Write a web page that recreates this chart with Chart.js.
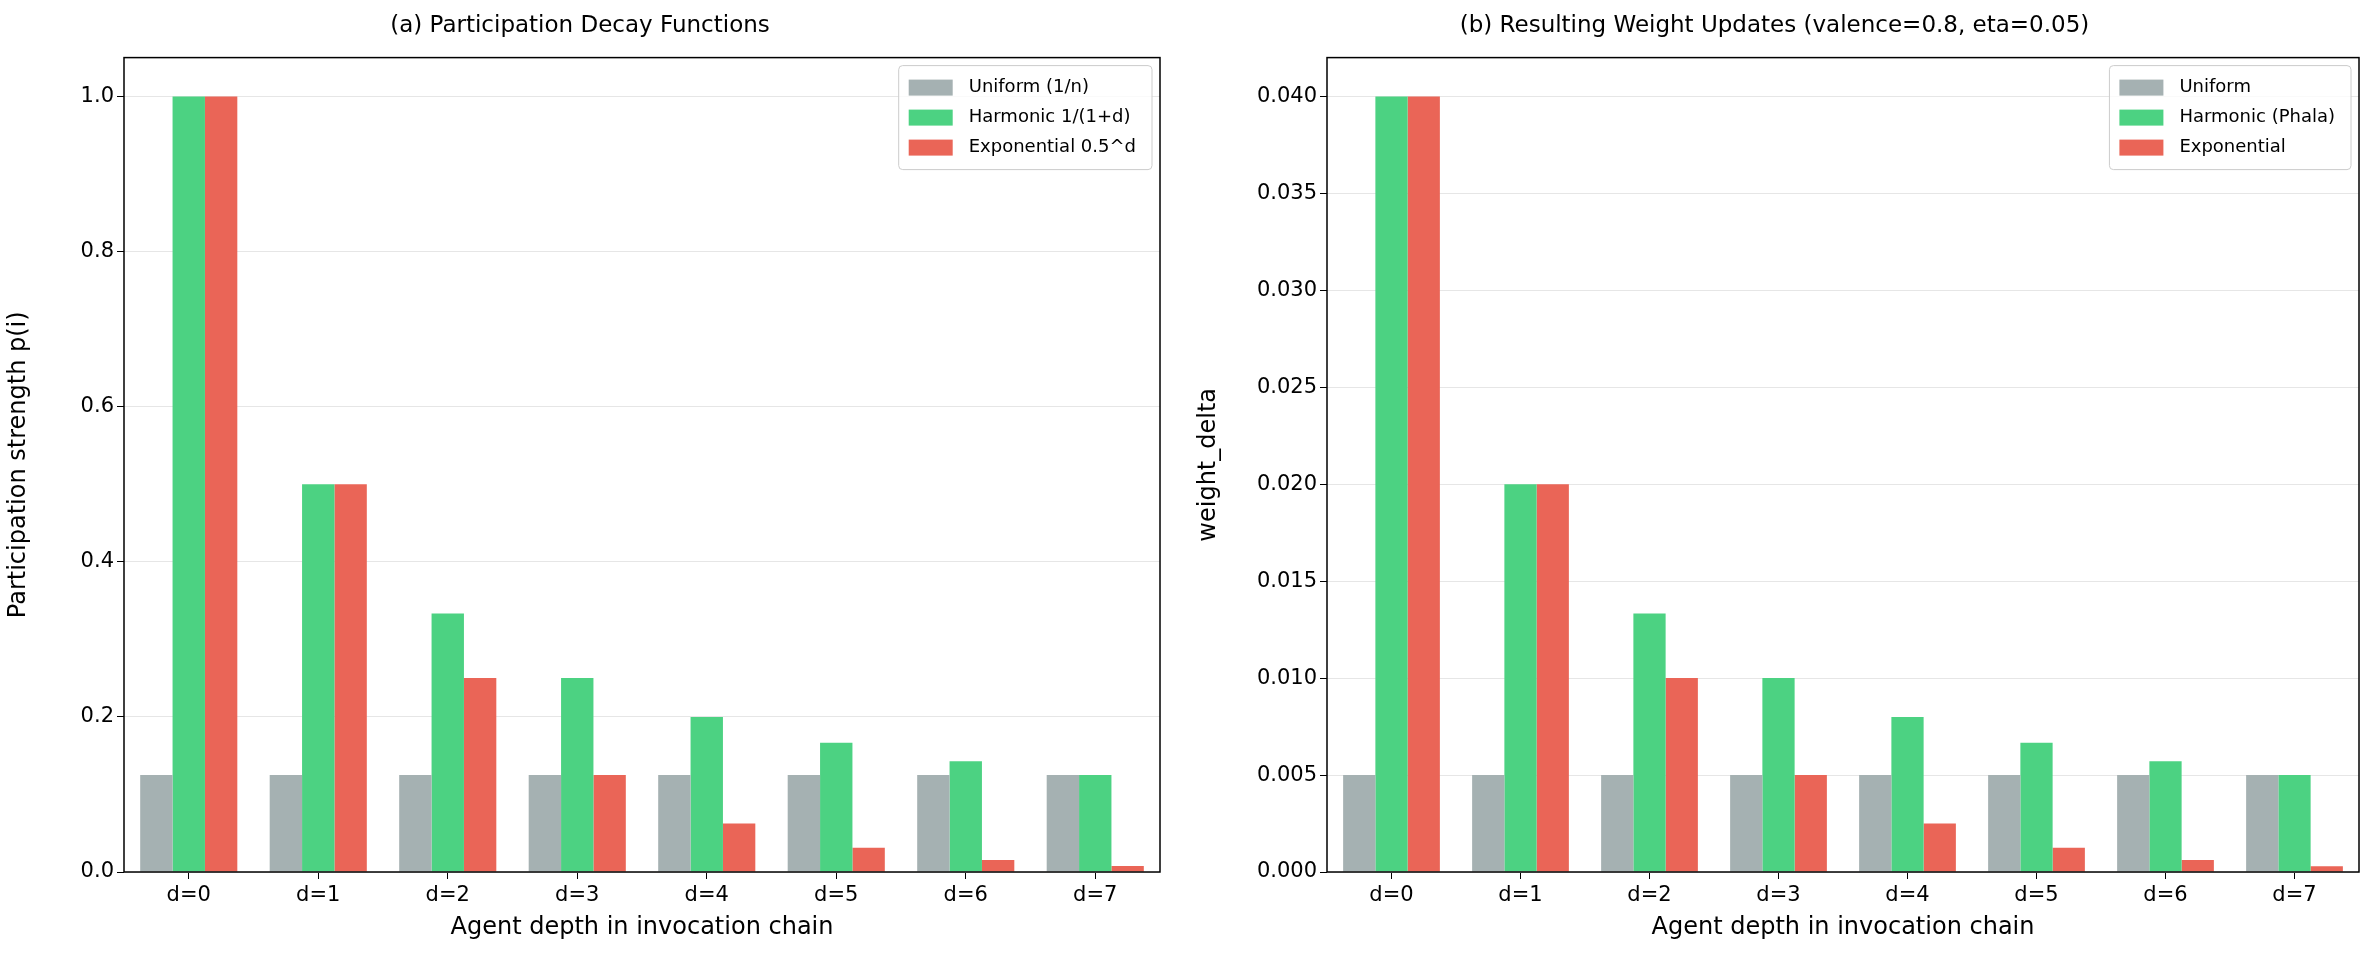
<!DOCTYPE html>
<html><head><meta charset="utf-8">
<script src="https://cdn.jsdelivr.net/npm/chart.js@4"></script>
<style>body{margin:0;background:#fff;width:2379px;height:980px;overflow:hidden;font-family:"DejaVu Sans"}
.c{position:absolute;top:0;height:980px}</style></head><body>
<div class="c" style="left:0;width:1180px"><canvas id="a"></canvas></div>
<div class="c" style="left:1190px;width:1189px"><canvas id="b"></canvas></div>
<script>
const categories=["d=0","d=1","d=2","d=3","d=4","d=5","d=6","d=7"];
const uniformP=[0.125,0.125,0.125,0.125,0.125,0.125,0.125,0.125];
const harmonicP=[1.0,0.5,0.3333,0.25,0.2,0.1667,0.1429,0.125];
const expP=[1.0,0.5,0.25,0.125,0.0625,0.03125,0.015625,0.0078];
const uniformW=[0.005,0.005,0.005,0.005,0.005,0.005,0.005,0.005];
const harmonicW=[0.04,0.02,0.01333,0.01,0.008,0.00667,0.00571,0.005];
const expW=[0.04,0.02,0.01,0.005,0.0025,0.00125,0.000625,0.0003];
const F="DejaVu Sans";
const frame={id:'frame',afterDraw(c){const a=c.chartArea,x=c.ctx;x.save();x.strokeStyle='#000';x.lineWidth=1.5;x.strokeRect(a.left,a.top,a.right-a.left,a.bottom-a.top);
const ds=c.data.datasets;x.font='18px '+F;let w=0;ds.forEach(d=>w=Math.max(w,x.measureText(d.label).width));
const bw=w+86,bh=ds.length*30+14,bx=a.right-bw-8,by=a.top+8;
x.fillStyle='rgba(255,255,255,0.8)';x.strokeStyle='#ccc';x.lineWidth=1;x.beginPath();x.roundRect(bx,by,bw,bh,4);x.fill();x.stroke();
ds.forEach((d,i)=>{const yy=by+10+i*30;x.fillStyle=d.backgroundColor;x.fillRect(bx+10,yy+4,44,16);x.fillStyle='#000';x.textBaseline='middle';x.fillText(d.label,bx+70,yy+12);});
x.restore();}};
function mk(id,title,yt,u,h,e,labels,max,step,dec,lim,ytw){
new Chart(document.getElementById(id),{type:'bar',
data:{labels:categories,datasets:[
{label:labels[0],data:u,backgroundColor:'#a5b1b2'},
{label:labels[1],data:h,backgroundColor:'#4cd282'},
{label:labels[2],data:e,backgroundColor:'#ea6557'}]},
options:{responsive:true,maintainAspectRatio:false,animation:false,
datasets:{bar:{categoryPercentage:0.75,barPercentage:1}},
layout:{padding:{right:20,left:0,bottom:34}},
plugins:{legend:{display:false},tooltip:{enabled:false},
title:{display:true,text:title,color:'#000',font:{family:F,size:23,weight:'normal'},padding:{top:12,bottom:18}}},
scales:{x:{grid:{offset:false,drawOnChartArea:false,drawTicks:true,tickLength:7,tickColor:'#000'},border:{display:false},
ticks:{color:'#000',font:{family:F,size:21},padding:4},
title:{display:true,text:'Agent depth in invocation chain',color:'#000',font:{family:F,size:24},padding:{top:2}},afterFit(s){s.height=74}},
y:{min:0,max:max,grid:{color:'#e6e6e6',tickLength:7,tickColor:'#000'},border:{display:false},
afterBuildTicks(s){s.ticks=s.ticks.filter(t=>t.value<=lim)},
ticks:{stepSize:step,color:'#000',font:{family:F,size:21},callback:v=>v.toFixed(dec)},
title:{display:true,text:yt,color:'#000',font:{family:F,size:24}},afterFit(s){s.width=ytw}}}},
plugins:[frame]});}
mk('a','(a) Participation Decay Functions','Participation strength p(i)',uniformP,harmonicP,expP,['Uniform (1/n)','Harmonic 1/(1+d)','Exponential 0.5^d'],1.05,0.2,1,1.001,124);
mk('b','(b) Resulting Weight Updates (valence=0.8, eta=0.05)','weight_delta',uniformW,harmonicW,expW,['Uniform','Harmonic (Phala)','Exponential'],0.042,0.005,3,0.0401,137);
</script></body></html>
